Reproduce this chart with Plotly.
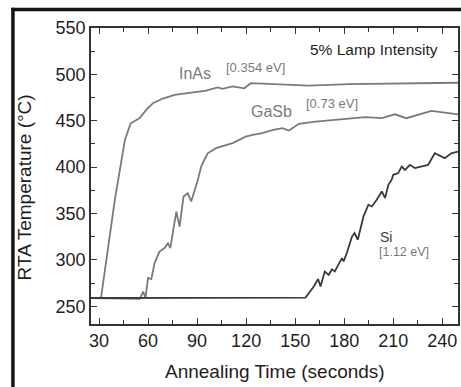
import plotly.graph_objects as go

# ---- data ----
inas_t = [25, 31.2, 39.7, 42.8, 45.8, 49.3, 54.9, 59, 63, 69, 76.2, 85.4, 95.5, 102.6,
          105.6, 111.7, 118.8, 122.9, 142, 158.3, 182.7, 213, 249.6]
inas_temp = [259, 259, 365, 400, 429, 447, 453, 462, 469, 474, 478, 480, 482.5, 486,
             484.5, 487, 485, 490.5, 489.5, 488, 489.5, 490.5, 491]

gasb_t = [25, 54.9, 57, 58.4, 60, 62, 64, 67, 70.1, 72.2, 73.6, 77.3, 79.3, 81.7, 84.3,
          86.4, 90.4, 92.5, 94.5, 96.5, 101.6, 107.7, 111.7, 115.8, 119.8, 123.9, 129.9,
          136, 142.1, 146.2, 148.2, 152.3, 162.4, 172.5, 182.7, 192.8, 203, 211, 218,
          225.3, 233.3, 241.5, 249.6]
gasb_temp = [259, 258, 266, 259, 280.6, 279.5, 296.7, 309, 312.8, 318, 312.8, 352, 336,
             368.4, 372, 363, 386, 400.7, 408, 415, 420.5, 424, 426, 429.4, 433, 434.8,
             436.6, 440, 442, 439.5, 442, 446.7, 449.2, 451, 452.8, 453.9, 452.8, 457,
             452.8, 456.4, 460.7, 458.9, 457]

si_t = [25, 156.3, 161.4, 164, 165.5, 168.1, 170.5, 172.5, 174.2, 176.6, 178.6, 179.6,
        181.6, 184.7, 186.3, 188.3, 189.8, 191.8, 194.8, 196.9, 199.9, 203, 205, 207,
        209, 210, 213, 215.2, 217.2, 220.2, 223.2, 227.3, 231.3, 235.4, 237.4, 241.5,
        245.5, 249.6]
si_temp = [259, 259.5, 271.5, 279.5, 271.5, 287.6, 284, 290, 287.6, 294.9, 302, 298.5,
           307.5, 325, 329, 321.8, 332.6, 347, 359.5, 357.7, 364.9, 373.8, 366.7, 381,
           386.4, 391.8, 393.6, 400.7, 397, 402.5, 399, 400.7, 402.5, 415, 413.3, 409.7,
           415, 416.8]

x_ticks = [30, 60, 90, 120, 150, 180, 210, 240]
y_ticks = [250, 300, 350, 400, 450, 500, 550]

FONT = "Liberation Sans, Arial, sans-serif"
LIGHT = "#7a7a7a"
DARK = "#3a3a3a"

fig = go.Figure()
fig.add_trace(go.Scatter(x=inas_t, y=inas_temp, mode="lines", name="InAs",
                         line=dict(color=LIGHT, width=1.8)))
fig.add_trace(go.Scatter(x=gasb_t, y=gasb_temp, mode="lines", name="GaSb",
                         line=dict(color=LIGHT, width=1.8)))
fig.add_trace(go.Scatter(x=si_t, y=si_temp, mode="lines", name="Si",
                         line=dict(color=DARK, width=1.8)))

annots = [
    dict(x=198.5, y=526.3, text="5% Lamp Intensity", font=dict(size=15.5, color="#1e1e1e")),
    dict(x=89.0, y=500.5, text="InAs", font=dict(size=16, color=LIGHT)),
    dict(x=125.5, y=507.5, text="[0.354 eV]", font=dict(size=13, color=LIGHT)),
    dict(x=135.5, y=459.6, text="GaSb", font=dict(size=16, color=LIGHT)),
    dict(x=172.3, y=468.2, text="[0.73 eV]", font=dict(size=13, color=LIGHT)),
    dict(x=205.8, y=324.5, text="Si", font=dict(size=14, color=DARK)),
    dict(x=216.6, y=308.5, text="[1.12 eV]", font=dict(size=12.5, color=LIGHT)),
]
for a in annots:
    fig.add_annotation(xref="x", yref="y", showarrow=False, borderpad=0, **a)

fig.add_annotation(xref="paper", yref="paper", x=0.501, y=-0.16, showarrow=False,
                   xanchor="center", yanchor="middle",
                   text="Annealing Time (seconds)", font=dict(size=19, color="#1e1e1e"))
fig.add_annotation(xref="paper", yref="paper", x=-0.181, y=0.46, showarrow=False,
                   xanchor="center", yanchor="middle",
                   text="RTA Temperature (°C)", textangle=-90,
                   font=dict(size=19, color="#1e1e1e"))

# outer black frame (top and left)
fig.add_shape(type="line", xref="paper", yref="paper", x0=-0.2168, x1=1.02,
              y0=1.0625, y1=1.0625, line=dict(color="#151515", width=3.5))
fig.add_shape(type="line", xref="paper", yref="paper", x0=-0.2127, x1=-0.2127,
              y0=1.068, y1=-0.25, line=dict(color="#151515", width=3.5))

axis_common = dict(showline=True, linecolor="#333333", linewidth=1.5, mirror="allticks",
                   ticks="inside", ticklen=6, tickwidth=1.2, tickcolor="#333333",
                   showgrid=False, zeroline=False,
                   tickfont=dict(family=FONT, size=18, color="#1e1e1e"))

fig.update_xaxes(range=[25.1, 249.6], tickvals=x_ticks,
                 minor=dict(dtick=15, tick0=30, ticks="inside", ticklen=4,
                            tickcolor="#333333", tickwidth=1.2),
                 **axis_common)
fig.update_yaxes(range=[231, 550], tickvals=y_ticks,
                 minor=dict(dtick=25, tick0=250, ticks="inside", ticklen=4,
                            tickcolor="#333333", tickwidth=1.2),
                 **axis_common)

fig.update_layout(width=461, height=387, showlegend=False,
                  margin=dict(l=91, r=1, t=28, b=63),
                  paper_bgcolor="white", plot_bgcolor="white",
                  font=dict(family=FONT))

fig.write_html("out.html", config={"displayModeBar": False},
               post_script="document.body.style.margin='0';document.body.style.overflow='hidden';")
